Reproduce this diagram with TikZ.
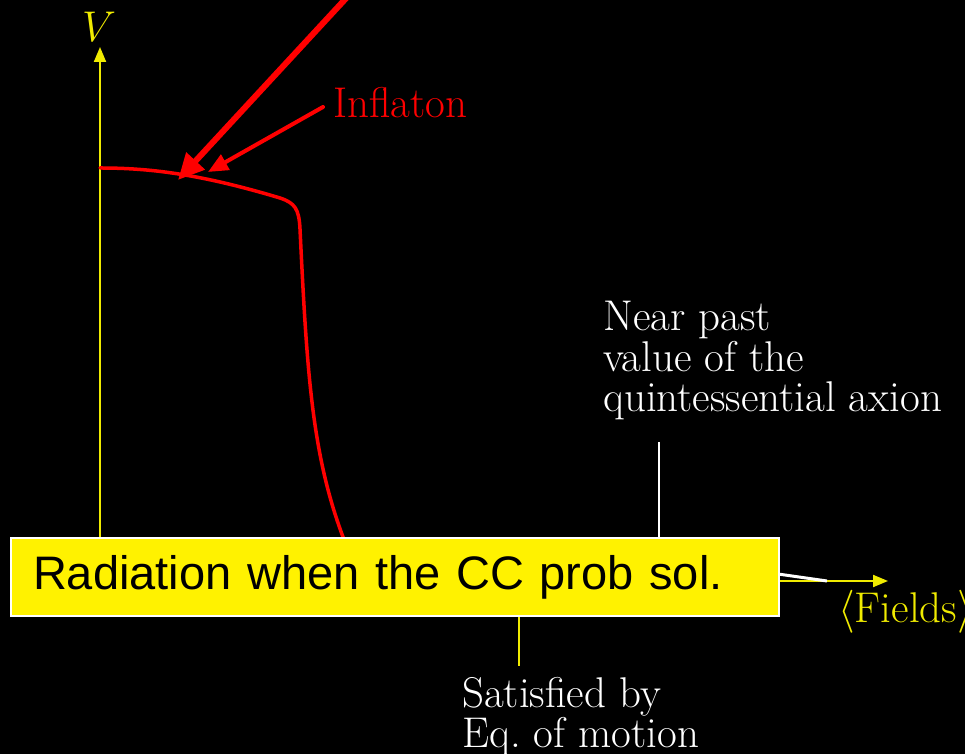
\documentclass[tikz,border=0pt]{standalone}
\usepackage{fix-cm}
\usepackage{fontspec}
\newfontfamily\boxfont{Liberation Sans}
\usetikzlibrary{arrows.meta}
\definecolor{axisyellow}{RGB}{240,235,0}
\definecolor{curvered}{RGB}{255,0,0}
\begin{document}
\begin{tikzpicture}[x=1pt,y=1pt,
  lbl/.style={inner sep=0pt, font=\fontsize{43}{40.5}\selectfont, align=left},
  axisline/.style={draw=axisyellow, line width=2pt, -{Triangle[length=15pt,width=12pt]}},
  potential/.style={draw=curvered, line width=3.5pt, line cap=round},
  pointer/.style={draw=curvered, line width=#1, line cap=round},
  guide/.style={draw=white, line width=2pt},
  banner/.style={draw=white, line width=2pt, fill=yellow, inner xsep=22pt,
    text width=724pt, minimum height=78pt, align=left, anchor=west,
    font=\boxfont\fontsize{47}{50}\selectfont}
]
% background and page size
\fill[black] (0,0) rectangle (965,754);
\useasboundingbox (0,0) rectangle (965,754);

% axes
\coordinate (origin) at (100,173);
\coordinate (vtop) at (100,707);
\coordinate (xend) at (888,173);
\draw[axisline] (origin) -- (vtop);
\draw[axisline] (origin) -- (xend);
\node[lbl, text=axisyellow] (vlabel) at (99,727) {$V$};
\node[lbl, text=axisyellow, anchor=west] (fields) at (838,142) {$\langle$Fields$\rangle$};

% inflaton potential
\draw[potential] (100,586) .. controls (150,586) and (200,580) .. (280,556)
  .. controls (295,551) and (299,545) .. (300,525)
  .. controls (307,380) and (312,300) .. (343,217) -- (352,190);

% pointers to the plateau
\coordinate (bigfrom) at (350,760);
\coordinate (bigtip) at (178,574);
\draw[pointer=6pt, -{Triangle[length=26pt,width=24pt]}] (bigfrom) -- (bigtip);
\node[lbl, text=curvered, anchor=west] (inflaton) at (333,651) {Inflaton};
\coordinate (smallfrom) at (323,647);
\coordinate (smalltip) at (208,582);
\draw[pointer=4pt, -{Triangle[length=20pt,width=17pt]}] (smallfrom) -- (smalltip);

% quintessential axion value and equation-of-motion marker
\node[lbl, text=white, anchor=north west] (nearpast) at (603,453)
  {Near past\\value of the\\quintessential axion};
\coordinate (qtop) at (659,312);
\coordinate (qbase) at (659,173);
\draw[guide] (qtop) -- (qbase);
\coordinate (qslopefrom) at (740,185.4);
\coordinate (qslopeto) at (827,173);
\draw[draw=white, line width=3pt] (qslopefrom) -- (qslopeto);

\coordinate (eomtop) at (519,173);
\coordinate (eombottom) at (519,88);
\draw[draw=axisyellow, line width=2pt] (eomtop) -- (eombottom);
\node[lbl, text=white, anchor=north west] (eom) at (462,77)
  {Satisfied by\\Eq.~of motion};

% banner
\node[banner] (radiation) at (10,177) {Radiation when the CC prob sol.};
\end{tikzpicture}
\end{document}
